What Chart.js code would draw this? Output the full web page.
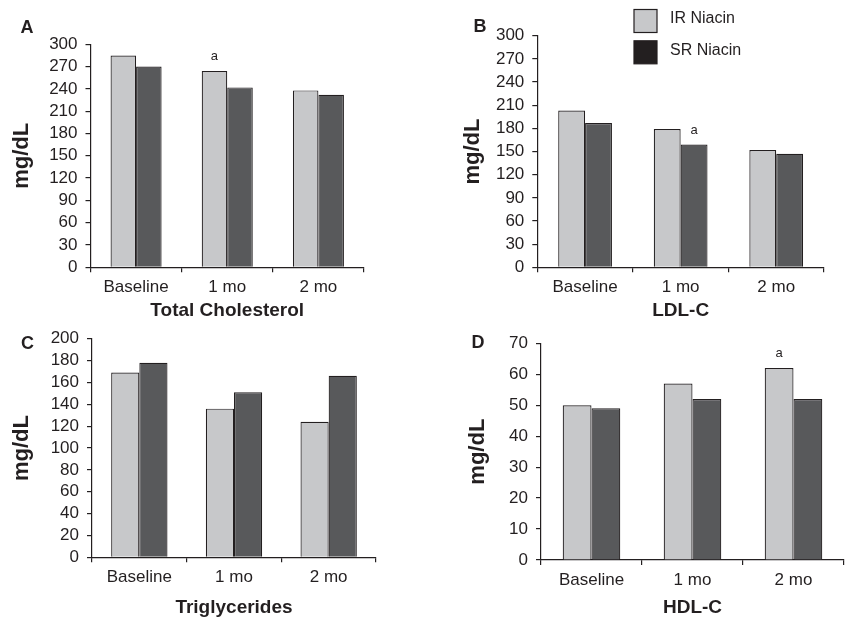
<!DOCTYPE html>
<html>
<head>
<meta charset="utf-8">
<script src="https://cdn.jsdelivr.net/npm/chart.js@4.4.0/dist/chart.umd.min.js"></script>
<style>
  html, body { margin: 0; padding: 0; background: #fff; overflow: hidden; }
  canvas { position: absolute; }
</style>
</head>
<body>
<canvas id="chartA"></canvas>
<canvas id="chartB"></canvas>
<canvas id="chartC"></canvas>
<canvas id="chartD"></canvas>
<script>
var categories = ['Baseline', '1 mo', '2 mo'];
var seriesNames = ['IR Niacin', 'SR Niacin'];

// values (mg/dL)
var totalCholIR = [285, 264, 238];
var totalCholSR = [270, 242, 232];
var ldlIR = [203, 179, 152];
var ldlSR = [187, 159, 147];
var trigIR = [169, 136, 124];
var trigSR = [178, 151, 166];
var hdlIR = [50, 57, 62];
var hdlSR = [49, 52, 52];

// "a" markers above bars
var totalCholIRMarks = ['', 'a', ''];
var ldlSRMarks = ['', 'a', ''];
var hdlIRMarks = ['', '', 'a'];

// y axis: [max, step]
var totalCholTicks = [300, 30];
var ldlTicks = [300, 30];
var trigTicks = [200, 20];
var hdlTicks = [70, 10];

var ink = '#231f20';
var lightBar = '#c7c8ca';
var darkBar = '#58595b';
var fontFamily = '"Liberation Sans", Arial, Helvetica, sans-serif';
Chart.defaults.font.family = fontFamily;

var panelLetter = {
    id: 'panelLetter',
    afterDraw: function(chart, args, opts) {
        var ctx = chart.ctx;
        ctx.save();
        ctx.font = 'bold 18px ' + fontFamily;
        ctx.fillStyle = ink;
        ctx.textAlign = 'center';
        ctx.textBaseline = 'middle';
        ctx.fillText(opts.text, opts.x, opts.y);
        ctx.restore();
    }
};

var sigMarks = {
    id: 'sigMarks',
    afterDatasetsDraw: function(chart) {
        var ctx = chart.ctx;
        chart.data.datasets.forEach(function(ds, i) {
            if (!ds.marks) return;
            var meta = chart.getDatasetMeta(i);
            ds.marks.forEach(function(m, j) {
                if (!m) return;
                var bar = meta.data[j];
                ctx.save();
                ctx.font = '13px ' + fontFamily;
                ctx.fillStyle = ink;
                ctx.textAlign = 'center';
                ctx.textBaseline = 'alphabetic';
                ctx.fillText(m, bar.x, bar.y - 11);
                ctx.restore();
            });
        });
    }
};

var boxLegend = {
    id: 'boxLegend',
    afterDraw: function(chart, args, opts) {
        if (!opts.show) return;
        var ctx = chart.ctx;
        ctx.save();
        ctx.font = '16px ' + fontFamily;
        ctx.textAlign = 'left';
        ctx.textBaseline = 'middle';
        chart.data.datasets.forEach(function(ds, i) {
            var y = opts.y + i * opts.gap;
            ctx.fillStyle = opts.colors[i];
            ctx.fillRect(opts.x, y, opts.size, opts.size);
            ctx.strokeStyle = ink;
            ctx.lineWidth = 1.2;
            ctx.strokeRect(opts.x, y, opts.size, opts.size);
            ctx.fillStyle = ink;
            ctx.fillText(ds.label, opts.x + opts.size + 13, y + opts.size / 2 - 2);
        });
        ctx.restore();
    }
};

function makePanel(id, box, area, cfg) {
    var canvas = document.getElementById(id);
    canvas.style.left = box.x + 'px';
    canvas.style.top = box.y + 'px';
    canvas.width = box.w;
    canvas.height = box.h;
    var yWidth = area.l - box.x;
    var xHeight = box.y + box.h - area.b;

    return new Chart(canvas, {
        type: 'bar',
        data: {
            labels: categories,
            datasets: [{
                label: seriesNames[0],
                data: cfg.ir,
                backgroundColor: lightBar,
                borderColor: ink,
                borderWidth: 1.2,
                marks: cfg.irMarks
            }, {
                label: seriesNames[1],
                data: cfg.sr,
                backgroundColor: darkBar,
                borderColor: ink,
                borderWidth: 1.2,
                marks: cfg.srMarks
            }]
        },
        options: {
            responsive: false,
            animation: false,
            devicePixelRatio: 1,
            layout: {
                padding: { left: 0, top: area.t - box.y, right: box.x + box.w - area.r, bottom: 0 }
            },
            datasets: { bar: { categoryPercentage: cfg.catPct, barPercentage: 1 } },
            plugins: {
                legend: { display: false },
                tooltip: { enabled: false },
                panelLetter: { text: cfg.letter, x: cfg.letterPos[0] - box.x, y: cfg.letterPos[1] - box.y },
                boxLegend: cfg.legend ? {
                    show: true, x: 634 - box.x, y: 9.5 - box.y, size: 23, gap: 31.3,
                    colors: [lightBar, ink]
                } : { show: false }
            },
            scales: {
                x: {
                    grid: { offset: true, drawOnChartArea: false, drawTicks: true, tickLength: 5, color: ink, lineWidth: 1.2 },
                    border: { color: ink, width: 1.2 },
                    ticks: { color: ink, font: { size: 17 }, padding: 5 },
                    title: {
                        display: true, text: cfg.title, color: ink, padding: 0,
                        font: { size: 19, weight: 'bold', lineHeight: 1 }
                    },
                    afterFit: function(s) { s.height = xHeight; }
                },
                y: {
                    min: 0,
                    max: cfg.ticks[0],
                    grid: { drawOnChartArea: false, drawTicks: true, tickLength: 5, color: ink, lineWidth: 1.2 },
                    border: { color: ink, width: 1.2 },
                    ticks: { stepSize: cfg.ticks[1], autoSkip: false, color: ink, font: { size: 17 }, padding: 8 },
                    title: {
                        display: true, text: 'mg/dL', color: ink,
                        padding: { top: cfg.yTitleX - box.x - 11, bottom: 0 },
                        font: { size: 22, weight: 'bold', lineHeight: 1 }
                    },
                    afterFit: function(s) { s.width = yWidth; }
                }
            }
        },
        plugins: [panelLetter, sigMarks, boxLegend]
    });
}

makePanel('chartA', { x: 0, y: 0, w: 423, h: 320 }, { l: 90.5, t: 44.3, r: 364, b: 267.3 }, {
    ir: totalCholIR, sr: totalCholSR, irMarks: totalCholIRMarks,
    ticks: totalCholTicks, title: 'Total Cholesterol', letter: 'A', letterPos: [27, 28],
    yTitleX: 22, catPct: 0.56
});
makePanel('chartB', { x: 423, y: 0, w: 424, h: 320 }, { l: 537.3, t: 35.7, r: 824, b: 267.3 }, {
    ir: ldlIR, sr: ldlSR, srMarks: ldlSRMarks,
    ticks: ldlTicks, title: 'LDL-C', letter: 'B', letterPos: [480, 27],
    yTitleX: 473, catPct: 0.5625, legend: true
});
makePanel('chartC', { x: 0, y: 320, w: 423, h: 297 }, { l: 92, t: 338.7, r: 376, b: 557.3 }, {
    ir: trigIR, sr: trigSR,
    ticks: trigTicks, title: 'Triglycerides', letter: 'C', letterPos: [27.5, 344],
    yTitleX: 22, catPct: 0.595
});
makePanel('chartD', { x: 423, y: 320, w: 424, h: 297 }, { l: 541, t: 343.3, r: 844, b: 560 }, {
    ir: hdlIR, sr: hdlSR, irMarks: hdlIRMarks,
    ticks: hdlTicks, title: 'HDL-C', letter: 'D', letterPos: [478, 343],
    yTitleX: 478, catPct: 0.57
});
</script>
</body>
</html>
